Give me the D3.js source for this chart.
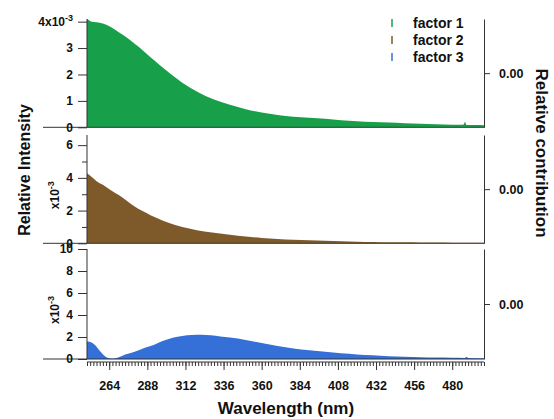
<!DOCTYPE html>
<html>
<head>
<meta charset="utf-8">
<script src="https://cdn.jsdelivr.net/npm/d3@7"></script>
<style>
  body { margin: 0; background: #fff; }
  text { font-family: "Liberation Sans", Arial, sans-serif; font-weight: bold; fill: #111; }
</style>
</head>
<body>
<svg id="chart" width="554" height="419"></svg>
<script>
// wavelengths (nm) and the three factor spectra (x10^-3)
const wavelengths = [250, 253, 256, 260, 265, 270, 275, 280, 285, 290, 295, 300, 310, 320, 330, 340, 350, 360, 370, 380, 390, 400, 410, 420, 430, 440, 450, 460, 470, 480, 487, 488, 489, 495, 500];
const factor1 = [4.1, 4.0, 3.98, 3.93, 3.8, 3.6, 3.4, 3.16, 2.92, 2.65, 2.4, 2.15, 1.69, 1.33, 1.05, 0.85, 0.68, 0.56, 0.47, 0.4, 0.36, 0.32, 0.27, 0.23, 0.2, 0.18, 0.155, 0.135, 0.115, 0.1, 0.095, 0.2, 0.09, 0.085, 0.08];
const factor2 = [4.28, 4.05, 3.8, 3.58, 3.25, 2.95, 2.6, 2.25, 1.97, 1.72, 1.5, 1.3, 1.0, 0.79, 0.64, 0.52, 0.41, 0.33, 0.27, 0.22, 0.18, 0.15, 0.12, 0.1, 0.085, 0.07, 0.06, 0.05, 0.045, 0.04, 0.038, 0.037, 0.035, 0.032, 0.03];
const blueNm = [250, 252, 255, 258, 261, 264, 267, 270, 274, 280, 286, 292, 298, 304, 310, 316, 322, 328, 334, 340, 350, 360, 370, 380, 390, 400, 410, 420, 430, 440, 450, 460, 470, 480, 488, 489, 490, 500];
const factor3 = [1.58, 1.55, 1.27, 0.75, 0.3, 0.07, 0.04, 0.15, 0.4, 0.66, 1.0, 1.28, 1.65, 1.93, 2.1, 2.18, 2.2, 2.15, 2.05, 1.95, 1.73, 1.45, 1.18, 0.95, 0.8, 0.65, 0.52, 0.42, 0.33, 0.26, 0.2, 0.16, 0.13, 0.11, 0.1, 0.2, 0.09, 0.07];

const factorNames = ["factor 1", "factor 2", "factor 3"];
const colors = ["#17a049", "#7e5a2b", "#356fd8"];
const xMajor = [264, 288, 312, 336, 360, 384, 408, 432, 456, 480];

const svg = d3.select("#chart");
const left = 87, right = 484;
const x = d3.scaleLinear().domain([250, 500]).range([left, right]);

const panels = [
  { nm: wavelengths, vals: factor1, top: 19, bottom: 127.3, max: 4.1, ticks: [0, 1, 2, 3, 4], minor: [] },
  { nm: wavelengths, vals: factor2, top: 135, bottom: 243.3, max: 6.62, ticks: [0, 2, 4, 6], minor: [1, 3, 5] },
  { nm: blueNm, vals: factor3, top: 249, bottom: 359, max: 10, ticks: [0, 2, 4, 6, 8, 10], minor: [] }
];

panels.forEach((p, i) => {
  const y = d3.scaleLinear().domain([0, p.max]).range([p.bottom, p.top]);
  const pts = p.nm.map((n, k) => [n, p.vals[k]]);

  svg.append("path")
    .datum(pts)
    .attr("fill", colors[i])
    .attr("d", d3.area().x(d => x(d[0])).y0(y(0)).y1(d => y(d[1])).curve(d3.curveMonotoneX));

  // zero line running out past the left axis
  svg.append("line")
    .attr("x1", 43).attr("x2", right)
    .attr("y1", y(0)).attr("y2", y(0))
    .attr("stroke", "#333").attr("stroke-width", 1);

  // left axis
  const ax = svg.append("g")
    .attr("transform", `translate(${left},0)`)
    .call(d3.axisLeft(y).tickValues(p.ticks).tickSize(9).tickPadding(5).tickFormat(d => d));
  ax.select(".domain").attr("stroke", "#333").attr("d", `M0,${p.bottom}V${p.top}`);
  ax.selectAll(".tick line").attr("stroke", "#333");
  ax.selectAll("text").style("font-size", "12px").style("font-family", null).attr("fill", "#111");

  if (p.minor.length) {
    svg.append("g")
      .attr("transform", `translate(${left},0)`)
      .call(d3.axisLeft(y).tickValues(p.minor).tickSize(5).tickFormat(""))
      .call(g => g.select(".domain").remove())
      .selectAll("line").attr("stroke", "#333");
  }

  if (i === 0) {
    const t = ax.selectAll(".tick").filter(d => d === 4).select("text");
    t.text("4x10");
    t.append("tspan").attr("dy", -5).style("font-size", "9px").text("-3");
  } else {
    svg.append("text")
      .attr("transform", `translate(59,${(p.top + p.bottom) / 2 + 6}) rotate(-90)`)
      .attr("text-anchor", "middle")
      .style("font-size", "12px")
      .text("x10")
      .append("tspan").attr("dy", -5).style("font-size", "9px").text("-3");
  }

  // right axis (relative contribution)
  const yr = d3.scaleLinear().domain([-1, 1]).range([p.bottom, p.top]);
  const ar = svg.append("g")
    .attr("transform", `translate(${right},0)`)
    .call(d3.axisRight(yr).tickValues([0]).tickSize(6).tickSizeOuter(0).tickPadding(9).tickFormat(d3.format(".2f")));
  ar.selectAll("path, line").attr("stroke", "#333");
  ar.selectAll("text").style("font-size", "12.5px").style("font-family", null).attr("fill", "#111");
});

// bottom x axis with minor ticks every 2 nm
const xa = svg.append("g")
  .attr("transform", "translate(0,362)")
  .call(d3.axisBottom(x).tickValues(xMajor).tickSize(8).tickPadding(11));
xa.select(".domain").attr("stroke", "#333").attr("d", `M${left},0H${right}`);
xa.selectAll("line").attr("stroke", "#333");
xa.selectAll("text").style("font-size", "12.5px").style("font-family", null).attr("fill", "#111");

svg.append("g")
  .attr("transform", "translate(0,362)")
  .call(d3.axisBottom(x).tickValues(d3.range(250, 501, 2)).tickSize(4).tickFormat(""))
  .call(g => g.select(".domain").remove())
  .selectAll("line").attr("stroke", "#333");

// axis titles
svg.append("text")
  .attr("x", 286).attr("y", 414)
  .attr("text-anchor", "middle").style("font-size", "17px")
  .text("Wavelength (nm)");

svg.append("text")
  .attr("transform", "translate(30,170) rotate(-90)")
  .attr("text-anchor", "middle").style("font-size", "16px")
  .text("Relative Intensity");

svg.append("text")
  .attr("transform", "translate(536,153) rotate(90)")
  .attr("text-anchor", "middle").style("font-size", "17px")
  .text("Relative contribution");

// legend
const legend = svg.append("g").attr("transform", "translate(392,0)");
factorNames.forEach((name, i) => {
  const yy = 28 + i * 17;
  legend.append("line")
    .attr("x1", 0).attr("x2", 0)
    .attr("y1", yy - 9).attr("y2", yy - 1)
    .attr("stroke", colors[i]).attr("stroke-width", 1.5);
  legend.append("text")
    .attr("x", 21).attr("y", yy)
    .style("font-size", "14px")
    .text(name);
});
</script>
</body>
</html>
